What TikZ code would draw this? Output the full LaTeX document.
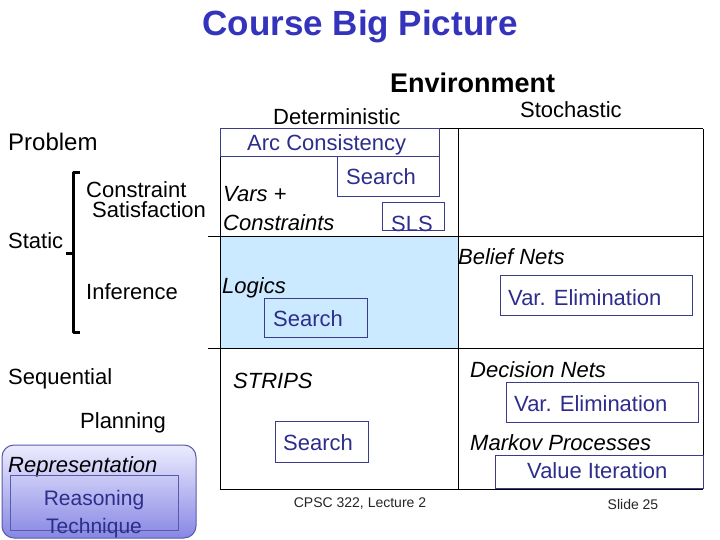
\documentclass[tikz,border=0pt]{standalone}
\usepackage{fontspec}
\setmainfont{Liberation Sans}
\definecolor{titlec}{RGB}{51,51,187}
\definecolor{boxc}{RGB}{60,60,140}
\definecolor{boxt}{RGB}{45,45,140}
\definecolor{cellblue}{RGB}{204,234,255}
\definecolor{legtop}{RGB}{236,236,255}
\definecolor{legbot}{RGB}{135,135,228}
\definecolor{legline}{RGB}{90,90,170}
\begin{document}
\begin{tikzpicture}[x=1pt,y=-1pt,
  lbl/.style={anchor=west, inner sep=0pt, text height=16pt, text depth=0pt, font=\fontsize{22}{26}\selectfont},
  ilbl/.style={lbl, font=\fontsize{22}{26}\selectfont\itshape},
  btxt/.style={lbl, text=boxt},
  bx/.style={draw=boxc, line width=1pt, inner sep=0pt},
  gridl/.style={black, line width=1pt},
  foot/.style={inner sep=0pt, font=\fontsize{14}{16}\selectfont, text=black!85}]
\useasboundingbox (0,0) rectangle (720,540);
\fill[white] (0,0) rectangle (720,540);

% blue cell
\fill[cellblue] (220,236) rectangle (458,348);

% grid
\draw[gridl] (220,129) -- (703,129);
\draw[gridl] (208,236) -- (703,236);
\draw[gridl] (208,348) -- (703,348);
\draw[gridl] (220,489) -- (703,489);
\draw[gridl] (220,129) -- (220,489);
\draw[gridl] (458,129) -- (458,489);
\draw[gridl] (703,129) -- (703,489);

% title and headers
\node[inner sep=0pt, font=\fontsize{35}{40}\selectfont\bfseries, text=titlec] (title) at (360,27) {Course Big Picture};
\node[lbl, font=\fontsize{27}{30}\selectfont\bfseries, text height=19pt] (env) at (390,83) {Environment};
\node[lbl] (det) at (273,117) {Deterministic};
\node[lbl] (sto) at (520,110) {Stochastic};
\node[lbl, font=\fontsize{24}{28}\selectfont, text height=17pt] (prob) at (8,142) {Problem};

% left labels
\node[lbl] (cs1) at (86,189) {Constraint};
\node[lbl] (cs2) at (92,210) {Satisfaction};
\node[lbl] (stat) at (8,240) {Static};
\node[lbl] (inf) at (86,291) {Inference};
\node[lbl] (seq) at (8,376) {Sequential};
\node[lbl] (plan) at (80,420) {Planning};

% brace
\draw[line width=3pt, line join=round] (80,173) -- (73,173) -- (73,332) -- (80,332);
\draw[line width=3pt] (73,253) -- (66,253);

% italic representations
\node[ilbl] (vars) at (223,194) {Vars +};
\node[ilbl] (cons) at (223,222) {Constraints};
\node[ilbl] (logic) at (222,285) {Logics};
\node[ilbl] (strips) at (233,380) {STRIPS};
\node[ilbl] (belief) at (458,256) {Belief Nets};
\node[ilbl] (dec) at (470,369) {Decision Nets};
\node[ilbl] (mark) at (470,442) {Markov Processes};

% reasoning boxes
\node[bx, minimum width=219pt, minimum height=28pt] (arc) at (329.5,143) {};
\node[btxt] (arct) at (247,143) {Arc Consistency};
\node[bx, minimum width=102pt, minimum height=40pt] (s1) at (388,177) {};
\node[btxt] (s1t) at (346,177) {Search};
\node[bx, minimum width=62pt, minimum height=28pt] (sls) at (413,217) {};
\begin{scope}
\clip (sls.north west) rectangle (sls.south east);
\node[btxt] (slst) at (391,224) {SLS};
\end{scope}
\node[bx, minimum width=103pt, minimum height=39pt] (s2) at (315.5,317.5) {};
\node[btxt] (s2t) at (273,318) {Search};
\node[bx, minimum width=192pt, minimum height=40pt] (ve1) at (596,295) {};
\node[btxt] (ve1t) at (508,297) {Var. Elimination};
\node[bx, minimum width=192pt, minimum height=40pt] (ve2) at (602,402) {};
\node[btxt] (ve2t) at (514,403) {Var. Elimination};
\node[bx, minimum width=208pt, minimum height=33pt] (vi) at (599,471.5) {};
\node[btxt] (vit) at (527,470) {Value Iteration};
\node[bx, minimum width=93pt, minimum height=41pt] (s3) at (321.5,441.5) {};
\node[btxt] (s3t) at (283,442) {Search};

% legend
\shade[top color=legtop, bottom color=legbot, draw=legline, line width=1pt, rounded corners=12pt] (2,445) rectangle (196,538);
\node[ilbl] (rep) at (8,464) {Representation};
\node[draw=legline, line width=1pt, inner sep=0pt, minimum width=168pt, minimum height=55pt] (legbox) at (94,502.5) {};
\node[lbl, anchor=center, text=boxt, font=\fontsize{21}{24}\selectfont] (reas) at (94,497) {Reasoning};
\node[lbl, anchor=center, text=boxt, font=\fontsize{21}{24}\selectfont] (tech) at (94,525) {Technique};

% footer
\node[foot] (ft1) at (360,504) {CPSC 322, Lecture 2};
\node[foot] (ft2) at (633,504) {Slide 25};
\end{tikzpicture}
\end{document}
